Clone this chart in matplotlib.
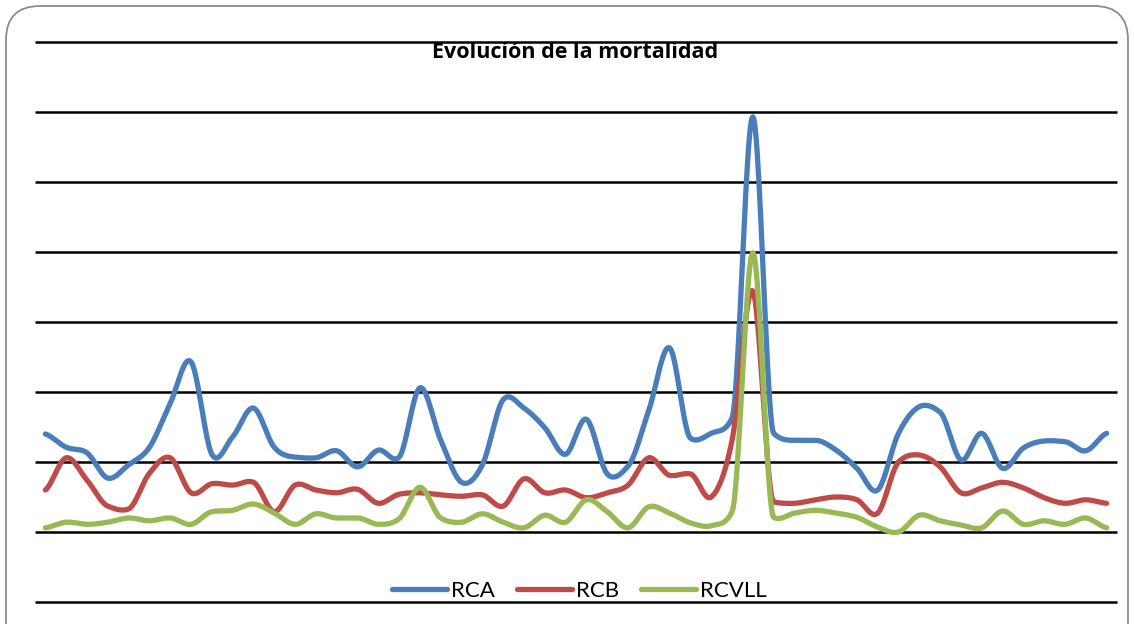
import matplotlib
matplotlib.use("Agg")
import matplotlib.pyplot as plt
from matplotlib.patches import FancyBboxPatch
import numpy as np

# weekly values (52 weeks)
semanas = list(range(1, 53))
rca = [1.40, 1.21, 1.13, 0.77, 0.96, 1.21, 1.84, 2.43, 1.11, 1.36,
       1.77, 1.21, 1.07, 1.06, 1.16, 0.93, 1.17, 1.07, 2.06, 1.31,
       0.71, 0.96, 1.89, 1.77, 1.49, 1.11, 1.61, 0.83, 0.94, 1.74,
       2.63, 1.34, 1.41, 1.63, 5.93, 1.41, 1.31, 1.31, 1.17, 0.91,
       0.60, 1.41, 1.79, 1.71, 1.03, 1.41, 0.91, 1.20, 1.30, 1.29,
       1.16, 1.41]
rcb = [0.60, 1.06, 0.74, 0.37, 0.33, 0.84, 1.06, 0.56, 0.69, 0.67,
       0.71, 0.29, 0.67, 0.60, 0.56, 0.61, 0.41, 0.54, 0.56, 0.53,
       0.51, 0.53, 0.37, 0.76, 0.56, 0.60, 0.49, 0.56, 0.67, 1.06,
       0.81, 0.83, 0.50, 1.31, 3.44, 0.43, 0.41, 0.46, 0.50, 0.46,
       0.27, 1.00, 1.10, 0.93, 0.56, 0.63, 0.71, 0.63, 0.49, 0.41,
       0.46, 0.41]
rcvll = [0.06, 0.14, 0.11, 0.14, 0.20, 0.16, 0.20, 0.11, 0.29, 0.31,
         0.40, 0.27, 0.11, 0.26, 0.20, 0.20, 0.11, 0.19, 0.64, 0.20,
         0.14, 0.26, 0.14, 0.06, 0.24, 0.14, 0.46, 0.29, 0.06, 0.36,
         0.27, 0.13, 0.09, 0.29, 3.99, 0.21, 0.27, 0.31, 0.27, 0.21,
         0.07, 0.00, 0.24, 0.16, 0.10, 0.06, 0.30, 0.11, 0.16, 0.11,
         0.20, 0.06]
series = {"RCA": rca, "RCB": rcb, "RCVLL": rcvll}
colores = {"RCA": "#4A7EBB", "RCB": "#BE4B48", "RCVLL": "#98B954"}

W, H = 1134, 624


def smooth(x, y, n=24):
    # excel-like smoothed line: catmull-rom tangents, limited so the
    # curve does not swing far past the big spike
    x = np.asarray(x, float)
    y = np.asarray(y, float)
    dlt = np.diff(y)
    m = np.zeros_like(y)
    m[0] = dlt[0] / 2
    m[-1] = dlt[-1] / 2
    for i in range(1, len(y) - 1):
        cr = (y[i + 1] - y[i - 1]) / 2
        lim = 3 * min(abs(dlt[i - 1]), abs(dlt[i]))
        m[i] = np.sign(cr) * min(abs(cr), lim)
    t = np.linspace(0, 1, n, endpoint=False)
    xs, ys = [], []
    for i in range(len(y) - 1):
        h = x[i + 1] - x[i]
        h00 = 2 * t ** 3 - 3 * t ** 2 + 1
        h10 = t ** 3 - 2 * t ** 2 + t
        h01 = -2 * t ** 3 + 3 * t ** 2
        h11 = t ** 3 - t ** 2
        xs.append(x[i] + t * h)
        ys.append(h00 * y[i] + h10 * h * m[i] + h01 * y[i + 1] + h11 * h * m[i + 1])
    xs.append([x[-1]])
    ys.append([y[-1]])
    return np.concatenate(xs), np.concatenate(ys)


plt.rcParams["font.family"] = ["Open Sans", "DejaVu Sans"]

fig = plt.figure(figsize=(W / 100, H / 100), dpi=100)
fig.patch.set_facecolor("white")

# rounded chart border (bottom edge runs off the image)
fig.patches.append(FancyBboxPatch((6 / W, -60 / H), 1122 / W, (H - 6 + 60) / H,
                                  boxstyle="round,pad=0,rounding_size=0.03",
                                  transform=fig.transFigure, fill=False,
                                  edgecolor="#8c8c8c", linewidth=1.3,
                                  mutation_aspect=W / H))

ax = fig.add_axes([35 / W, (H - 602) / H, 1082 / W, 560 / H])
ax.set_xlim(0.5, 52.5)
ax.set_ylim(-1, 7)
ax.set_axis_off()

ax.hlines(np.arange(-1, 8), 0.5, 52.5, colors="black", linewidth=1.8,
          clip_on=False, zorder=1)

for nombre, vals in series.items():
    sx, sy = smooth(semanas, vals)
    ax.plot(sx, sy, color=colores[nombre], linewidth=3.8, label=nombre,
            solid_capstyle="round", solid_joinstyle="round", zorder=3,
            clip_on=False)

fig.text(575 / W, 1 - 52 / H, "Evolución de la mortalidad", ha="center",
         va="center", fontsize=15.5, fontweight="bold")

leg = fig.legend(loc="center", bbox_to_anchor=(579 / W, 1 - 591 / H), ncol=3,
                 frameon=False, handlelength=2.5,
                 handletextpad=0.15, columnspacing=1.0, borderpad=0,
                 prop={"family": ["Lato", "DejaVu Sans"], "size": 16})

fig.savefig("out.png", dpi=100, facecolor="white")
